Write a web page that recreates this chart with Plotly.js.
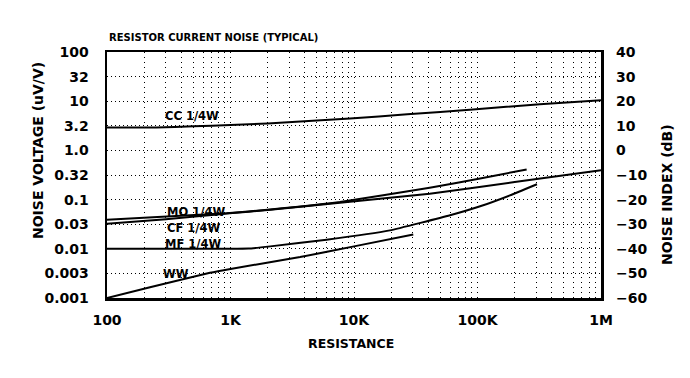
<!DOCTYPE html>
<html>
<head>
<meta charset="utf-8">
<script src="https://cdn.plot.ly/plotly-3.0.1.min.js"></script>
<style>html,body{margin:0;padding:0;background:#fff;}#chart{width:690px;height:378px;}</style>
</head>
<body>
<div id="chart"></div>
<script>
// ---- Data ----
const ccR = [100, 250, 500, 1000, 2000, 5000, 9300, 27000, 92000, 320000, 1000000];
const ccV = [2.93, 2.93, 3.08, 3.3, 3.53, 4.05, 4.47, 5.4, 6.8, 8.7, 10.5];

const moR = [100, 930, 2100, 7700, 41000, 105000, 250000];
const moV = [0.039, 0.053, 0.063, 0.089, 0.175, 0.268, 0.41];

const cfR = [100, 300, 600, 930, 2100, 7700, 41000, 200000, 1000000];
const cfV = [0.0324, 0.040, 0.047, 0.052, 0.062, 0.086, 0.132, 0.228, 0.395];

const mfR = [100, 500, 1000, 1400, 2100, 6000, 19500, 60000, 105000, 183000, 303000];
const mfV = [0.01, 0.01, 0.01, 0.0101, 0.0112, 0.0153, 0.0237, 0.048, 0.073, 0.122, 0.205];

const wwR = [100, 223, 682, 1000, 3660, 10000, 30200];
const wwV = [0.001, 0.00165, 0.00325, 0.0039, 0.00678, 0.0112, 0.0196];

const seriesNames = ['CC 1/4W', 'MO 1/4W', 'CF 1/4W', 'MF 1/4W', 'WW'];

const xTickLabels = ['100', '1K', '10K', '100K', '1M'];
const yTickLabels = ['0.001', '0.003', '0.01', '0.03', '0.1', '0.32', '1.0', '3.2', '10', '32', '100'];

const titleText = 'RESISTOR CURRENT NOISE (TYPICAL)';
const xTitle = 'RESISTANCE';
const yTitle = 'NOISE VOLTAGE (uV/V)';
const y2Title = 'NOISE INDEX (dB)';

// ---- Styling / positions ----
const FONT = 'DejaVu Sans';
const tf = (s) => ({family: FONT, size: s, color: '#000', weight: 'bold'});

// x grid: every 1..9 within each decade, labels at decades
const xTickVals = [], xTickText = [];
for (let d = 0; d < xTickLabels.length; d++) {
  const base = Math.pow(10, 2 + d);
  for (let m = 1; m <= 9; m++) {
    if (d === xTickLabels.length - 1 && m > 1) break;
    xTickVals.push(base * m);
    xTickText.push(m === 1 ? xTickLabels[d] : '');
  }
}
// y grid: half-decades
const yTickVals = yTickLabels.map((_, i) => Math.pow(10, -3 + 0.5 * i));

const line = {color: '#000', width: 2, shape: 'spline', smoothing: 0.35};
const mk = (x, y, name) => ({x, y, name, type: 'scatter', mode: 'lines', line, hoverinfo: 'skip'});

const traces = [
  mk(ccR, ccV, seriesNames[0]),
  mk(moR, moV, seriesNames[1]),
  mk(cfR, cfV, seriesNames[2]),
  mk(mfR, mfV, seriesNames[3]),
  mk(wwR, wwV, seriesNames[4]),
  // empty trace so the right-hand dB axis is drawn
  {x: [], y: [], yaxis: 'y2', type: 'scatter', mode: 'lines', showlegend: false, hoverinfo: 'skip'}
];

// label positions (log10 units on log axes)
const labelPos = [
  [2.453, 0.697],
  [2.470, -1.253],
  [2.470, -1.578],
  [2.456, -1.896],
  [2.437, -2.507]
];

const annotations = seriesNames.map((n, i) => ({
  x: labelPos[i][0], y: labelPos[i][1], xref: 'x', yref: 'y',
  text: n, showarrow: false, xanchor: 'left', yanchor: 'middle',
  font: tf(11.5)
}));

annotations.push(
  {xref: 'paper', yref: 'paper', x: 0, y: 1.057, xanchor: 'left', yanchor: 'middle',
   text: titleText, showarrow: false, font: tf(10)},
  {xref: 'paper', yref: 'paper', x: 0.494, y: -0.183, xanchor: 'center', yanchor: 'middle',
   text: xTitle, showarrow: false, font: tf(12.5)},
  {xref: 'paper', yref: 'paper', x: -0.1397, y: 0.6016, xanchor: 'center', yanchor: 'middle',
   text: yTitle, showarrow: false, textangle: -90, font: tf(14)},
  {xref: 'paper', yref: 'paper', x: 1.1336, y: 0.4228, xanchor: 'center', yanchor: 'middle',
   text: y2Title, showarrow: false, textangle: -90, font: tf(14)}
);

const layout = {
  width: 690, height: 378,
  margin: {l: 107, r: 89, t: 52, b: 80, pad: 0},
  paper_bgcolor: '#fff', plot_bgcolor: '#fff',
  showlegend: false,
  xaxis: {
    type: 'log', range: [2, 6], tickmode: 'array', tickvals: xTickVals, ticktext: xTickText,
    showgrid: true, gridcolor: '#000', gridwidth: 1, griddash: '1px,4px',
    showline: true, mirror: true, linecolor: '#000', linewidth: 2.5,
    ticks: '', zeroline: false, tickfont: tf(14), ticklabelstandoff: 8
  },
  yaxis: {
    type: 'log', range: [-3, 2], tickmode: 'array', tickvals: yTickVals, ticktext: yTickLabels,
    showgrid: true, gridcolor: '#000', gridwidth: 1, griddash: '1px,3px',
    showline: true, mirror: true, linecolor: '#000', linewidth: 2.5,
    ticks: '', zeroline: false, tickfont: tf(14), ticklabelstandoff: 13
  },
  yaxis2: {
    overlaying: 'y', side: 'right', range: [-60, 40], autorange: false,
    tickmode: 'linear', tick0: 0, dtick: 10,
    showgrid: false, zeroline: false, showline: false, ticks: '',
    tickfont: tf(14), ticklabelstandoff: 14, fixedrange: true
  },
  annotations
};

Plotly.newPlot('chart', traces, layout, {staticPlot: true, displayModeBar: false});
</script>
</body>
</html>
